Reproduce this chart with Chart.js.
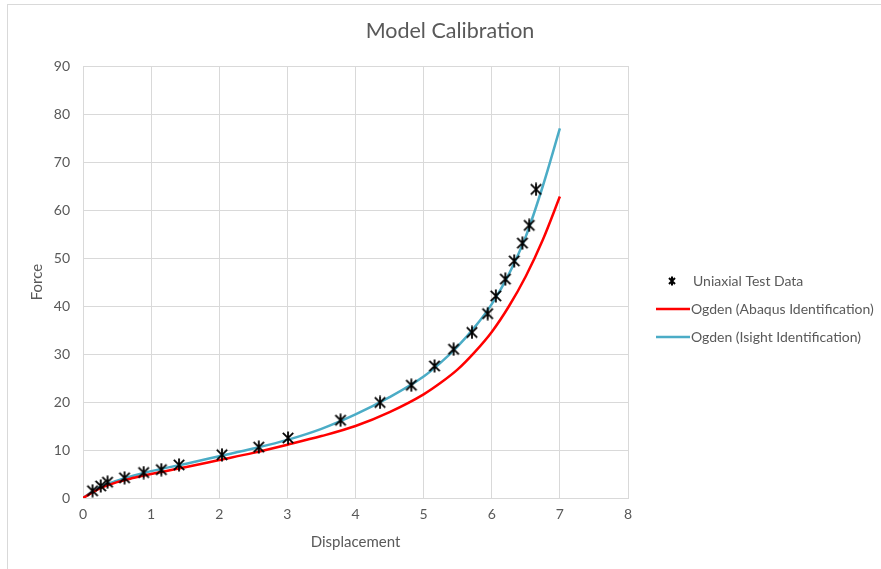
<!DOCTYPE html>
<html>
  <head>
    <script src="https://cdn.jsdelivr.net/npm/chart.js"></script>
    <style>
      body {
        margin: 0;
        background: #ffffff;
      }
      #frame {
        position: absolute;
        left: 7px;
        top: 4px;
        width: 900px;
        height: 600px;
        border: 1px solid #d9d9d9;
      }
      #calib_chart {
        position: absolute;
        left: 0;
        top: 0;
      }
    </style>
  </head>
  <body>
    <div id="frame"></div>
    <canvas id="calib_chart" width="881" height="569"></canvas>
    <script>
      // Uniaxial test measurements
      const test_x = [0.14, 0.26, 0.36, 0.61, 0.89, 1.15, 1.41, 2.04, 2.58, 3.01, 3.78, 4.36, 4.82, 5.16, 5.44, 5.71, 5.94, 6.06, 6.2, 6.33, 6.45, 6.55, 6.65];
      const test_y = [1.5, 2.5, 3.3, 4.2, 5.3, 5.9, 6.9, 9.0, 10.6, 12.5, 16.2, 19.9, 23.5, 27.5, 31.0, 34.5, 38.4, 42.1, 45.6, 49.4, 53.1, 56.8, 64.3];

      // Ogden model curves, sampled along displacement
      const model_x = [0, 0.25, 0.5, 0.75, 1, 1.5, 2, 2.5, 3, 3.5, 4, 4.5, 5, 5.25, 5.5, 5.75, 6, 6.25, 6.5, 6.75, 7];
      const abaqus_y = [0, 2.0, 3.3, 4.2, 5.0, 6.4, 7.9, 9.4, 11.1, 12.9, 15.0, 17.9, 21.6, 24.0, 26.8, 30.4, 34.6, 39.9, 46.2, 53.8, 62.8];
      const isight_y = [0, 2.3, 3.6, 4.7, 5.6, 7.1, 8.7, 10.3, 12.1, 14.4, 17.4, 21.0, 25.3, 28.2, 31.6, 35.6, 40.4, 46.6, 54.5, 65.0, 77.0];

      const series_names = ["Uniaxial Test Data", "Ogden (Abaqus Identification)", "Ogden (Isight Identification)"];
      const x_ticks = [0, 8, 1];
      const y_ticks = [0, 90, 10];

      const FONT = "Lato, 'Open Sans', sans-serif";
      const TEXT = "#595959";
      const GRID = "#d9d9d9";

      // Star marker: an X with a vertical stroke
      function make_star(size, width) {
        const c = document.createElement("canvas");
        c.width = size;
        c.height = size;
        const g = c.getContext("2d");
        const m = width;
        g.strokeStyle = "#000000";
        g.lineWidth = width;
        g.beginPath();
        g.moveTo(m, m);
        g.lineTo(size - m, size - m);
        g.moveTo(size - m, m);
        g.lineTo(m, size - m);
        g.moveTo(size / 2, 0.5);
        g.lineTo(size / 2, size - 0.5);
        g.stroke();
        return c;
      }
      const star = make_star(14, 1.8);
      const star_small = make_star(10, 2);

      const pairs = (xs, ys) => xs.map((x, i) => ({ x: x, y: ys[i] }));

      // Title and legend drawn at fixed spots beside the plot
      const extras = {
        id: "extras",
        afterDraw(chart) {
          const ctx = chart.ctx;
          ctx.save();
          ctx.fillStyle = TEXT;
          ctx.font = "21.5px " + FONT;
          ctx.textAlign = "center";
          ctx.textBaseline = "middle";
          ctx.fillText("Model Calibration", 450, 31);

          ctx.font = "14px " + FONT;
          ctx.textAlign = "left";
          const rows = [281, 309, 337];
          ctx.drawImage(star_small, 672 - 5, rows[0] - 5);
          const colors = [null, "#ff0000", "#4bacc6"];
          for (let i = 1; i < 3; i++) {
            ctx.strokeStyle = colors[i];
            ctx.lineWidth = 2.5;
            ctx.beginPath();
            ctx.moveTo(656, rows[i]);
            ctx.lineTo(690, rows[i]);
            ctx.stroke();
          }
          ctx.fillStyle = TEXT;
          ctx.fillText(series_names[0], 693, rows[0]);
          ctx.fillText(series_names[1], 691, rows[1]);
          ctx.fillText(series_names[2], 691, rows[2]);
          ctx.restore();
        },
      };

      new Chart("calib_chart", {
        type: "scatter",
        data: {
          datasets: [
            {
              label: series_names[0],
              data: pairs(test_x, test_y),
              pointStyle: star,
              showLine: false,
            },
            {
              label: series_names[1],
              data: pairs(model_x, abaqus_y),
              showLine: true,
              borderColor: "#ff0000",
              borderWidth: 2.5,
              pointRadius: 0,
              cubicInterpolationMode: "monotone",
            },
            {
              label: series_names[2],
              data: pairs(model_x, isight_y),
              showLine: true,
              borderColor: "#4bacc6",
              borderWidth: 2.5,
              pointRadius: 0,
              cubicInterpolationMode: "monotone",
            },
          ],
        },
        plugins: [extras],
        options: {
          responsive: false,
          animation: false,
          layout: {
            padding: { left: 0, top: 66, right: 253, bottom: 0 },
          },
          plugins: {
            legend: { display: false },
            tooltip: { enabled: false },
          },
          scales: {
            x: {
              type: "linear",
              min: x_ticks[0],
              max: x_ticks[1],
              afterFit(scale) {
                scale.height = 71;
              },
              ticks: {
                stepSize: x_ticks[2],
                color: TEXT,
                font: { family: FONT, size: 14 },
                padding: 8,
              },
              grid: { color: GRID, drawTicks: false },
              border: { color: GRID },
              title: {
                display: true,
                text: "Displacement",
                color: TEXT,
                font: { family: FONT, size: 15 },
                padding: { bottom: 18 },
              },
            },
            y: {
              type: "linear",
              min: y_ticks[0],
              max: y_ticks[1],
              afterFit(scale) {
                scale.width = 83;
              },
              ticks: {
                stepSize: y_ticks[2],
                color: TEXT,
                font: { family: FONT, size: 14 },
                padding: 13,
              },
              grid: { color: GRID, drawTicks: false },
              border: { color: GRID },
              title: {
                display: true,
                text: "Force",
                color: TEXT,
                font: { family: FONT, size: 15 },
                padding: { top: 28 },
              },
            },
          },
        },
      });
    </script>
  </body>
</html>
